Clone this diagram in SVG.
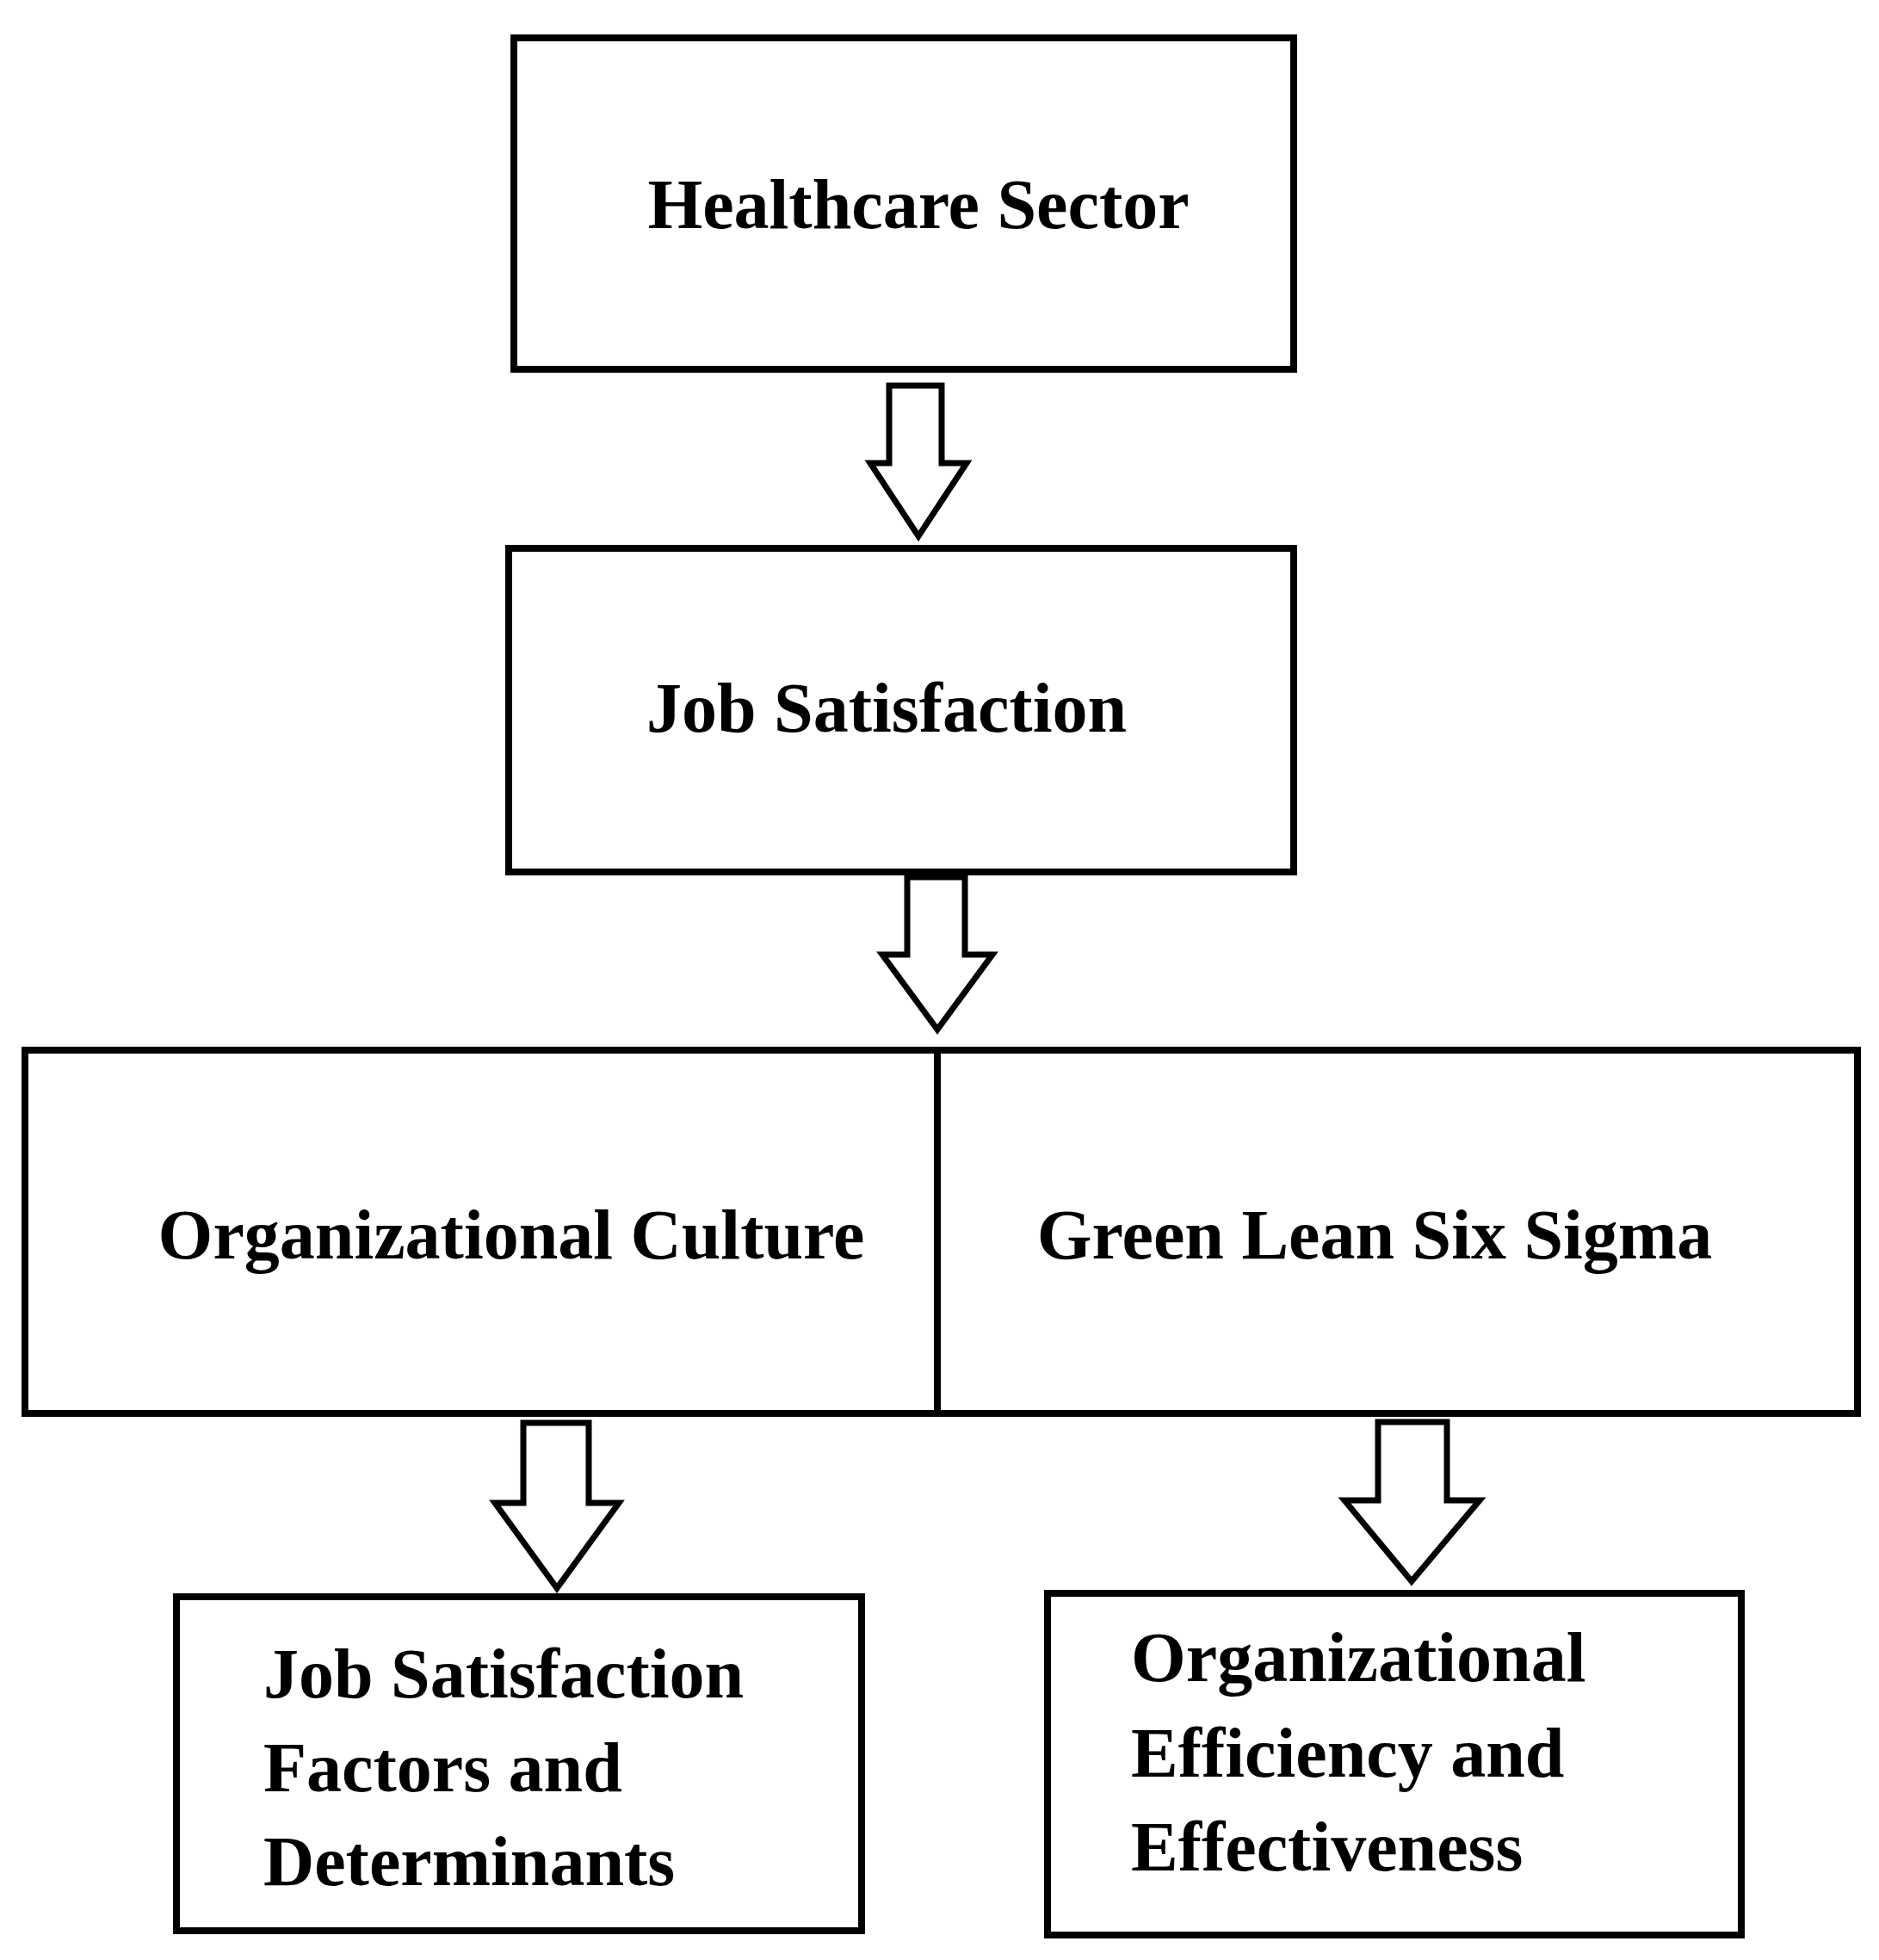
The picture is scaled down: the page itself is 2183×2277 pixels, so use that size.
<svg xmlns="http://www.w3.org/2000/svg" width="2183" height="2277" viewBox="0 0 2183 2277">
<style>
.b{fill:#fff;stroke:#000;stroke-width:8}
.a{fill:#fff;stroke:#000;stroke-width:7;stroke-linejoin:miter}
text{font-family:"Liberation Serif",serif;font-weight:bold;font-size:82px;fill:#000}
.c{text-anchor:middle}
</style>
<rect width="2183" height="2277" fill="#fff"/>
<g id="n1"><rect class="b" x="597" y="44" width="906" height="385"/><text class="c" x="1067" y="265">Healthcare Sector</text></g>
<g id="n2"><rect class="b" x="591" y="637" width="912" height="376"/><text class="c" x="1030" y="850">Job Satisfaction</text></g>
<g id="n3"><rect class="b" x="29" y="1220" width="1060" height="422"/><text class="c" x="594" y="1462">Organizational Culture</text></g>
<g id="n4"><rect class="b" x="1089" y="1220" width="1069" height="422"/><text class="c" x="1597" y="1462">Green Lean Six Sigma</text></g>
<g id="n5"><rect class="b" x="205" y="1855" width="796" height="388"/><text x="306" y="1972">Job Satisfaction</text><text x="306" y="2081">Factors and</text><text x="306" y="2190">Determinants</text></g>
<g id="n6"><rect class="b" x="1217" y="1851" width="806" height="397"/><text x="1314" y="1953">Organizational</text><text x="1314" y="2064">Efficiency and</text><text x="1314" y="2173">Effectiveness</text></g>
<g id="connectors">
<path class="a" d="M1033,448 H1094 V538 H1123 L1067,623 L1011,538 H1033 Z"/>
<path class="a" d="M1054,1019 H1121 V1109 H1153 L1089,1196 L1025,1109 H1054 Z"/>
<path class="a" d="M608,1653 H684 V1746 H719 L647,1845 L575,1746 H608 Z"/>
<path class="a" d="M1601,1652 H1681 V1743 H1719 L1640,1837 L1562,1743 H1601 Z"/>
</g>
</svg>
